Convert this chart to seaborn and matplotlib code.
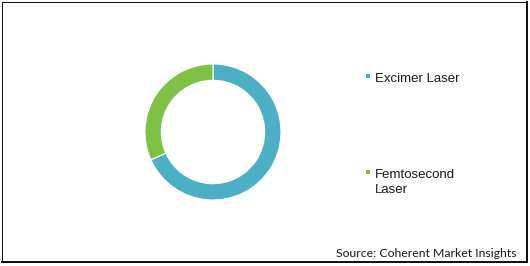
import matplotlib
matplotlib.use("Agg")
import matplotlib.pyplot as plt
import seaborn as sns
from matplotlib.patches import Rectangle
from matplotlib.lines import Line2D

categories = ["Excimer Laser", "Femtosecond\nLaser"]
shares = [68.3, 31.7]
colors = ["#4BB0C6", "#7DC243"]
source_text = "Source: Coherent Market Insights"

sns.set_theme(style="white")
plt.rcParams['font.family'] = ['Liberation Sans', 'DejaVu Sans']

W, H = 530, 266
fig = plt.figure(figsize=(W / 100, H / 100), dpi=100)
fig.patch.set_facecolor("white")

ax = fig.add_axes([145 / W, 66 / H, 136 / W, 136 / H])
wedges, _ = ax.pie(shares, colors=colors, startangle=90, counterclock=False,
                   radius=1.0,
                   wedgeprops=dict(width=0.24, edgecolor="white", linewidth=0.8))
ax.set_xlim(-1, 1)
ax.set_ylim(-1, 1)
ax.set_aspect("equal")
ax.axis("off")

# legend (manual so the marker sits on the first line of a wrapped label)
first_baselines_px = [81.5, 177.5]   # from top, first line of each label
line_gap_px = 15.4
marker_x_px = 365.7
marker_size_px = 4.6
text_x_px = 375
for label, color, base in zip(categories, colors, first_baselines_px):
    n_lines = label.count("\n") + 1
    last_base = base + (n_lines - 1) * line_gap_px
    fig.patches.append(Rectangle((marker_x_px / W, (H - base + 3.2) / H),
                                 marker_size_px / W, marker_size_px / H,
                                 transform=fig.transFigure, facecolor=color,
                                 edgecolor="none"))
    fig.text(text_x_px / W, (H - last_base) / H, label, ha="left", va="baseline",
             fontsize=9.5, color="#1a1a1a", linespacing=1.3)

fig.text(516 / W, (H - 256.7) / H, source_text, ha="right", va="baseline",
         fontsize=8.85, family=['Lato', 'DejaVu Sans'], color="#1a1a1a")

# frame: thin top/left, thicker right/bottom
def px_line(x0, y0, x1, y1, lw_px):
    fig.lines.append(Line2D([x0 / W, x1 / W], [(H - y0) / H, (H - y1) / H],
                            transform=fig.transFigure, color="#111111",
                            linewidth=lw_px * 0.72, solid_capstyle="projecting"))

px_line(1.5, 1.5, 527, 1.5, 1)
px_line(1.5, 1.5, 1.5, 262, 1)
px_line(527, 1.5, 527, 262, 2)
px_line(1.5, 262, 527, 262, 2)

fig.savefig("out.png", dpi=100)
